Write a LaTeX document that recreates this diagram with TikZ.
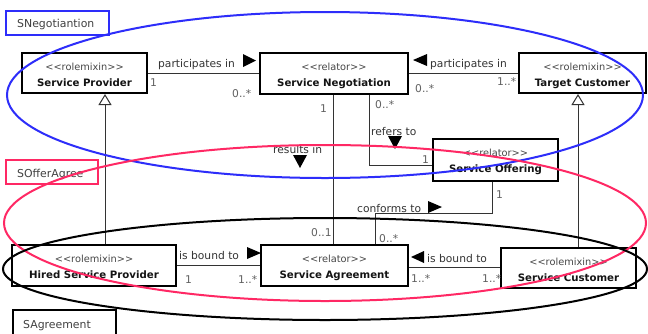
\documentclass[tikz,border=0pt]{standalone}
\usepackage{fontspec}
\setmainfont{DejaVu Sans}
\usetikzlibrary{arrows.meta,calc}
\definecolor{pkgblue}{RGB}{45,45,250}
\definecolor{pkgpink}{RGB}{255,40,100}
\newcommand\stL{<\kern0pt<}
\newcommand\stR{>\kern0pt>}
\tikzset{
  cls/.style={draw=black, line width=2pt, fill=white, inner sep=0pt, rectangle},
  stereo/.style={anchor=base, inner sep=0pt, font=\fontsize{9.8}{11}\selectfont, text=black!72},
  cname/.style={anchor=base, inner sep=0pt, font=\fontsize{10.2}{12}\selectfont\bfseries, text=black!92},
  lbl/.style={anchor=base west, inner sep=0pt, font=\fontsize{10.7}{12}\selectfont, text=black!80},
  mult/.style={lbl, text=black!62},
  conn/.style={draw=black!80, line width=1pt},
  gen/.style={conn, -{Triangle[open, length=11pt, width=13pt, line width=1pt]}},
  tri/.style={fill=black},
  pkgbox/.style={line width=2pt, fill=white, inner sep=0pt, rectangle},
  pkgtxt/.style={anchor=base west, inner sep=0pt, font=\fontsize{10.9}{12}\selectfont, text=black!75},
  pkgline/.style={line width=2pt}
}
\newcommand\umlbox[7]{%
  \node[cls, minimum width={#4-#2}, minimum height={#5-#3}] (#1) at ({(#2+#4)/2},{(#3+#5)/2}) {};
  \node[stereo] (#1-s) at ([yshift=-18pt]#1.north) {\stL#6\stR};
  \node[cname] (#1-n) at ([yshift=-34pt]#1.north) {#7};
}
\begin{document}
\begin{tikzpicture}[x=1pt,y=-1pt]
\clip (0,0) rectangle (648,333);
\fill[white] (0,0) rectangle (648,333);

% classes
\umlbox{sp}{22}{53}{147}{93}{rolemixin}{Service Provider}
\umlbox{sn}{260}{53}{408}{94}{relator}{Service Negotiation}
\umlbox{tc}{519}{53}{646}{93}{rolemixin}{Target Customer}
\umlbox{so}{433}{139}{558}{181}{relator}{Service Offering}
\umlbox{hsp}{12}{245}{176}{286}{rolemixin}{Hired Service Provider}
\umlbox{sa}{261}{245}{408}{286}{relator}{Service Agreement}
\umlbox{sc}{501}{248}{636}{288}{rolemixin}{Service Customer}

% helper coordinates
\coordinate (g1) at (105,0);
\coordinate (g2) at (578,0);
\coordinate (v1) at (333,0);
\coordinate (v2) at (369,0);
\coordinate (h2) at (0,165);
\coordinate (v3) at (492,0);
\coordinate (h3) at (0,213);
\coordinate (v4) at (375,0);
\coordinate (h4) at (0,267);

% connectors
\draw[conn] (sp.east) -- (sn.west |- sp.east);
\draw[conn] (sn.east |- tc.west) -- (tc.west);
\draw[gen] (hsp.north -| g1) -- (sp.south -| g1);
\draw[gen] (sc.north -| g2) -- (tc.south -| g2);
\draw[conn] (sn.south -| v1) -- (sa.north -| v1);
\draw[conn] (sn.south -| v2) -- (v2 |- h2) -- (so.west |- h2);
\draw[conn] (so.south -| v3) -- (v3 |- h3) -- (v4 |- h3) -- (sa.north -| v4);
\draw[conn] (hsp.east) -- (sa.west |- hsp.east);
\draw[conn] (sa.east |- h4) -- (sc.west |- h4);

% connector labels
\node[lbl] (l1) at (158,67) {participates in};
\node[lbl] (l2) at (430,67) {participates in};
\node[lbl] (l3) at (371,135) {refers to};
\node[lbl] (l4) at (273,153) {results in};
\node[lbl] (l5) at (357,212) {conforms to};
\node[lbl] (l6) at (179,259) {is bound to};
\node[lbl] (l7) at (427,262) {is bound to};

% reading direction triangles
\fill[tri] (243,54) -- (256,60.5) -- (243,67) -- cycle;
\fill[tri] (427,54) -- (413,60) -- (427,66) -- cycle;
\fill[tri] (388,136) -- (402,136) -- (395,149) -- cycle;
\fill[tri] (293,155) -- (307,155) -- (300,168) -- cycle;
\fill[tri] (428,201) -- (442,207) -- (428,213) -- cycle;
\fill[tri] (247,247) -- (261,253) -- (247,259) -- cycle;
\fill[tri] (424,251) -- (411,257) -- (424,263) -- cycle;

% multiplicities
\node[mult] (m1) at (150,86) {1};
\node[mult] (m2) at (232,97) {0..*};
\node[mult] (m3) at (415,92) {0..*};
\node[mult] (m4) at (497,85) {1..*};
\node[mult] (m5) at (320,112) {1};
\node[mult] (m6) at (375,108) {0..*};
\node[mult] (m7) at (422,163) {1};
\node[mult] (m8) at (496,198) {1};
\node[mult] (m9) at (311,236) {0..1};
\node[mult] (m10) at (379,242) {0..*};
\node[mult] (m11) at (185,283) {1};
\node[mult] (m12) at (238,283) {1..*};
\node[mult] (m13) at (411,282) {1..*};
\node[mult] (m14) at (482,282) {1..*};

% package labels
\node[pkgbox, draw=pkgblue, minimum width=103, minimum height=24] (pN) at (57.5,23) {};
\node[pkgtxt] (pNt) at (17,27.5) {SNegotiantion};
\node[pkgbox, draw=pkgpink, minimum width=92, minimum height=24] (pO) at (52,172) {};
\node[pkgtxt] (pOt) at (17,177) {SOfferAgree};
\node[pkgbox, draw=black, minimum width=103, minimum height=40] (pA) at (64.5,330) {};
\node[pkgtxt] (pAt) at (23,328) {SAgreement};

% package ellipses
\draw[pkgline, pkgblue] (325,95) ellipse [x radius=318, y radius=83];
\draw[pkgline, pkgpink] (325,223) ellipse [x radius=321, y radius=78];
\draw[pkgline, black] (325,269) ellipse [x radius=322, y radius=51];
\end{tikzpicture}
\end{document}
